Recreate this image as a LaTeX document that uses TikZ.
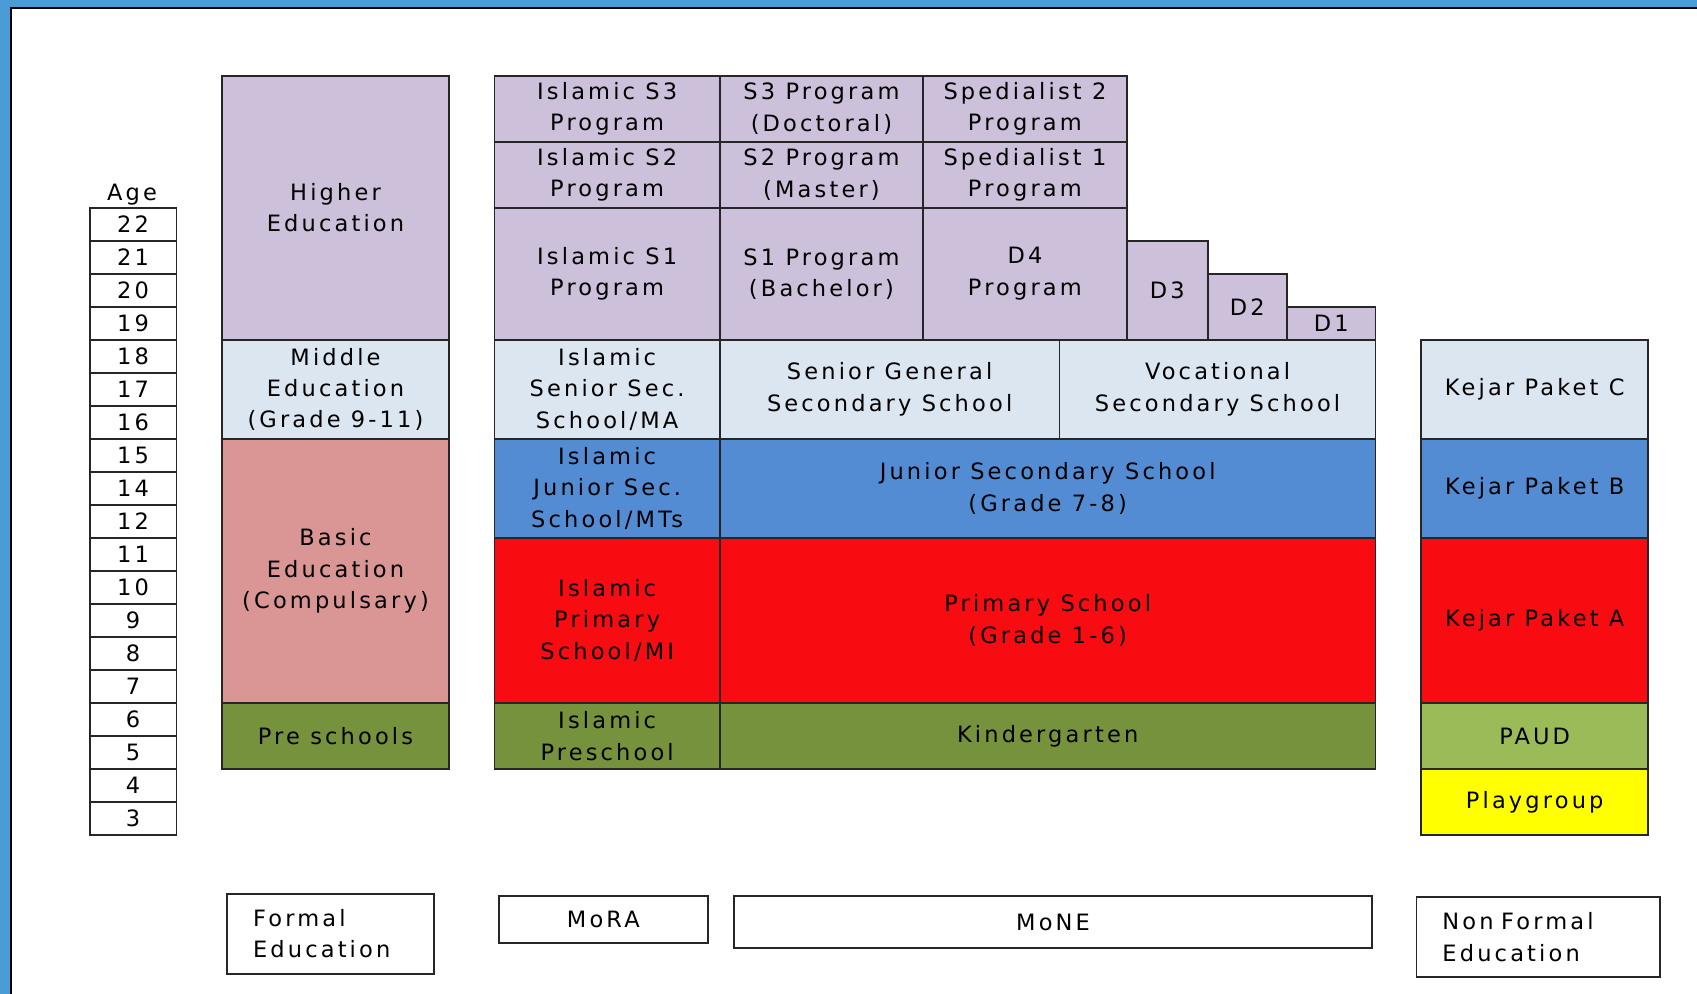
\documentclass[tikz,border=0pt]{standalone}
\usepackage{fontspec}
\setmainfont[LetterSpace=14]{DejaVu Sans}

\definecolor{frameblue}{HTML}{4A9CD6}
\definecolor{lav}{HTML}{CCC0DA}
\definecolor{paleblue}{HTML}{DCE6F1}
\definecolor{rose}{HTML}{DA9694}
\definecolor{olive}{HTML}{76923C}
\definecolor{midblue}{HTML}{548CD4}
\definecolor{brightred}{HTML}{F80C12}
\definecolor{paudgreen}{HTML}{9BBB59}
\definecolor{playyellow}{HTML}{FFFF00}

% cell from corner (x1,y1) to (x2,y2): name, x1, y1, x2, y2, fill, text
\newcommand{\cell}[7]{%
	\node[blk,fill=#6,minimum width={((#4)-(#2))*0.5pt},minimum height={((#5)-(#3))*0.5pt}]
		(#1) at ({((#2)+(#4))/2},{((#3)+(#5))/2}) {#7};}

\begin{document}
\begin{tikzpicture}[x=0.5pt,y=-0.5pt,font=\fontsize{10.4}{14.5}\selectfont,
	blk/.style={draw=black!85,line width=0.8pt,inner sep=0pt,align=center},
	tag/.style={draw=black!85,line width=0.8pt,inner xsep=12pt,inner ysep=0pt,align=left,anchor=north west}]

	\useasboundingbox (0,0) rectangle (1568,918);

	% slide frame
	\fill[frameblue] (0,0) rectangle (1568,7);
	\fill[frameblue] (0,0) rectangle (10,918);
	\draw[line width=1pt] (10,918) -- (10,7) -- (1568,7);

	% age column
	\node (agelbl) at (122,180) {Age};
	\foreach \a [count=\i from 0] in {22,21,20,19,18,17,16,15,14,12,11,10,9,8,7,6,5,4,3}
	{
		\cell{age\a}{83}{192+30.5*\i}{163}{222.5+30.5*\i}{white}{\a}
	}

	% formal education
	\cell{hed}{205}{70}{415}{314}{lav}{Higher\\Education}
	\cell{med}{205}{314}{415}{405.5}{paleblue}{Middle\\Education\\(Grade 9-11)}
	\cell{bed}{205}{405.5}{415}{649.5}{rose}{Basic\\Education\\(Compulsary)}
	\cell{pre}{205}{649.5}{415}{710.5}{olive}{Pre schools}

	% MoRA
	\cell{is3}{457}{70}{665}{131}{lav}{Islamic S3\\Program}
	\cell{is2}{457}{131}{665}{192}{lav}{Islamic S2\\Program}
	\cell{is1}{457}{192}{665}{314}{lav}{Islamic S1\\Program}
	\cell{isss}{457}{314}{665}{405.5}{paleblue}{Islamic\\Senior Sec.\\School/MA}
	\cell{ijss}{457}{405.5}{665}{497}{midblue}{Islamic\\Junior Sec.\\School/MTs}
	\cell{ips}{457}{497}{665}{649.5}{brightred}{Islamic\\Primary\\School/MI}
	\cell{ipre}{457}{649.5}{665}{710.5}{olive}{Islamic\\Preschool}

	% MoNE
	\cell{s3}{665}{70}{853}{131}{lav}{S3 Program\\(Doctoral)}
	\cell{sp2}{853}{70}{1041}{131}{lav}{Spedialist 2\\Program}
	\cell{s2}{665}{131}{853}{192}{lav}{S2 Program\\(Master)}
	\cell{sp1}{853}{131}{1041}{192}{lav}{Spedialist 1\\Program}
	\cell{s1}{665}{192}{853}{314}{lav}{S1 Program\\(Bachelor)}
	\cell{d4}{853}{192}{1041}{314}{lav}{D4\\Program}
	\cell{d3}{1041}{222.5}{1116}{314}{lav}{D3}
	\cell{d2}{1116}{253}{1189}{314}{lav}{D2}
	\cell{d1}{1189}{283.5}{1271}{314}{lav}{D1}
	\cell{sgss}{665}{314}{979}{405.5}{paleblue}{Senior General\\Secondary School}
	\cell{vss}{979}{314}{1271}{405.5}{paleblue}{Vocational\\Secondary School}
	\cell{jss}{665}{405.5}{1271}{497}{midblue}{Junior Secondary School\\(Grade 7-8)}
	\cell{ps}{665}{497}{1271}{649.5}{brightred}{Primary School\\(Grade 1-6)}
	\cell{kg}{665}{649.5}{1271}{710.5}{olive}{Kindergarten}

	% non formal education
	\cell{kpc}{1313}{314}{1523}{405.5}{paleblue}{Kejar Paket C}
	\cell{kpb}{1313}{405.5}{1523}{497}{midblue}{Kejar Paket B}
	\cell{kpa}{1313}{497}{1523}{649.5}{brightred}{Kejar Paket A}
	\cell{paud}{1313}{649.5}{1523}{710.5}{paudgreen}{PAUD}
	\cell{play}{1313}{710.5}{1523}{771.5}{playyellow}{Playgroup}

	% legend boxes
	\node[tag,text width=71.5pt,minimum height=37pt] (formal) at (209,825) {Formal\\Education};
	\cell{mora}{461}{828}{654}{871}{white}{MoRA}
	\cell{mone}{678}{828}{1268}{876}{white}{MoNE}
	\node[tag,text width=88.5pt,minimum height=37pt] (nonformal) at (1308,828) {Non Formal\\Education};

\end{tikzpicture}
\end{document}
